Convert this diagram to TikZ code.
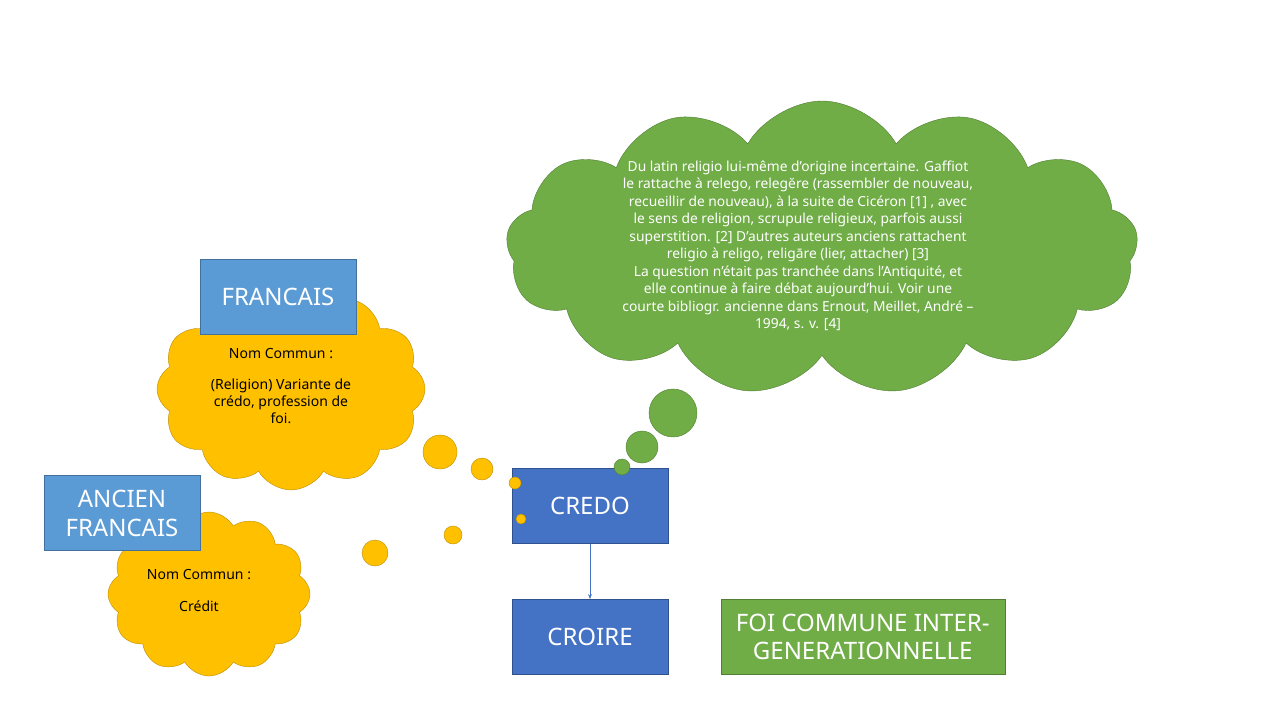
\documentclass[tikz,border=0pt]{standalone}
\usepackage{fontspec}
\setmainfont{Noto Sans}
\usetikzlibrary{arrows.meta,positioning,shapes.symbols}

\definecolor{boxblue}{HTML}{5B9BD5}
\definecolor{boxblueline}{HTML}{41719C}
\definecolor{deepblue}{HTML}{4472C4}
\definecolor{deepblueline}{HTML}{2F528F}
\definecolor{leafgreen}{HTML}{70AD47}
\definecolor{leafgreenline}{HTML}{507E32}
\definecolor{sun}{HTML}{FFC000}
\definecolor{sunline}{HTML}{BC8C00}

\begin{document}
\begin{tikzpicture}[
  x=1pt, y=-1pt, >=Stealth, node distance=55pt,
  lang/.style={draw=boxblueline, fill=boxblue, text=white, minimum width=156pt, minimum height=75pt, align=center, inner sep=2pt, font=\fontsize{24}{29}\selectfont},
  word/.style={draw=deepblueline, fill=deepblue, text=white, line width=1pt, minimum width=156pt, minimum height=75pt, align=center, inner sep=2pt, font=\fontsize{24}{29}\selectfont},
  idea/.style={draw=leafgreenline, fill=leafgreen, text=white, minimum width=284pt, minimum height=75pt, align=center, inner sep=2pt, font=\fontsize{24}{28}\selectfont},
  suncloud/.style={cloud, cloud puffs=12, cloud puff arc=120, cloud ignores aspect, draw=sunline, fill=sun, inner sep=0pt},
  greencloud/.style={cloud, cloud puffs=13, cloud puff arc=120, cloud ignores aspect, draw=leafgreenline, fill=leafgreen, inner sep=0pt},
  note/.style={align=center, inner sep=0pt, font=\fontsize{14}{17}\selectfont},
  sunbub/.style={draw=sunline, fill=sun},
  greenbub/.style={draw=leafgreenline, fill=leafgreen},
  link/.style={->, deepblue, thin},
]
  \useasboundingbox (0,0) rectangle (1267,713);

  % clouds
  \node[greencloud, minimum width=632pt, minimum height=294pt] (origin) at (822,248) {};
  \node[suncloud, minimum width=268pt, minimum height=202pt] (fr) at (291,389) {};
  \node[suncloud, minimum width=202pt, minimum height=164pt] (afr) at (209,594) {};

  \node[note, text=white, font=\fontsize{13.8}{17.5}\selectfont] (origintxt) at (798,246)
    {Du latin religio lui-même d’origine incertaine. Gaffiot\\
     le rattache à relego, relegĕre (rassembler de nouveau,\\
     recueillir de nouveau), à la suite de Cicéron [1] , avec\\
     le sens de religion, scrupule religieux, parfois aussi\\
     superstition. [2] D’autres auteurs anciens rattachent\\
     religio à religo, religāre (lier, attacher) [3]\\
     La question n'était pas tranchée dans l’Antiquité, et\\
     elle continue à faire débat aujourd'hui. Voir une\\
     courte bibliogr. ancienne dans Ernout, Meillet, André –\\
     1994, s. v. [4]};
  \node[note] (frtxt) at (281,386)
    {Nom Commun :\\[14pt](Religion) Variante de\\crédo, profession de\\foi.};
  \node[note] (afrtxt) at (199,590) {Nom Commun :\\[15pt]Crédit};

  % boxes
  \node[lang] (francais) at (278,297) {FRANCAIS};
  \node[lang] (ancien) at (122,513) {ANCIEN\\FRANCAIS};
  \node[word] (credo) at (590,506) {CREDO};
  \node[word, below=of credo] (croire) {CROIRE};
  \node[idea, right=52pt of croire] (foi) {FOI COMMUNE INTER-\\GENERATIONNELLE};

  \draw[link] (credo.south) -- (croire.north);

  % thought bubbles
  \draw[greenbub] (673,413) circle (24);
  \draw[greenbub] (642,447) circle (16);
  \draw[greenbub] (622,467) circle (8);
  \draw[sunbub] (440,452) circle (17);
  \draw[sunbub] (482,469) circle (11);
  \draw[sunbub] (515,483) circle (6);
  \draw[sunbub] (521,519) circle (5);
  \draw[sunbub] (453,535) circle (9);
  \draw[sunbub] (375,553) circle (13);
\end{tikzpicture}
\end{document}
